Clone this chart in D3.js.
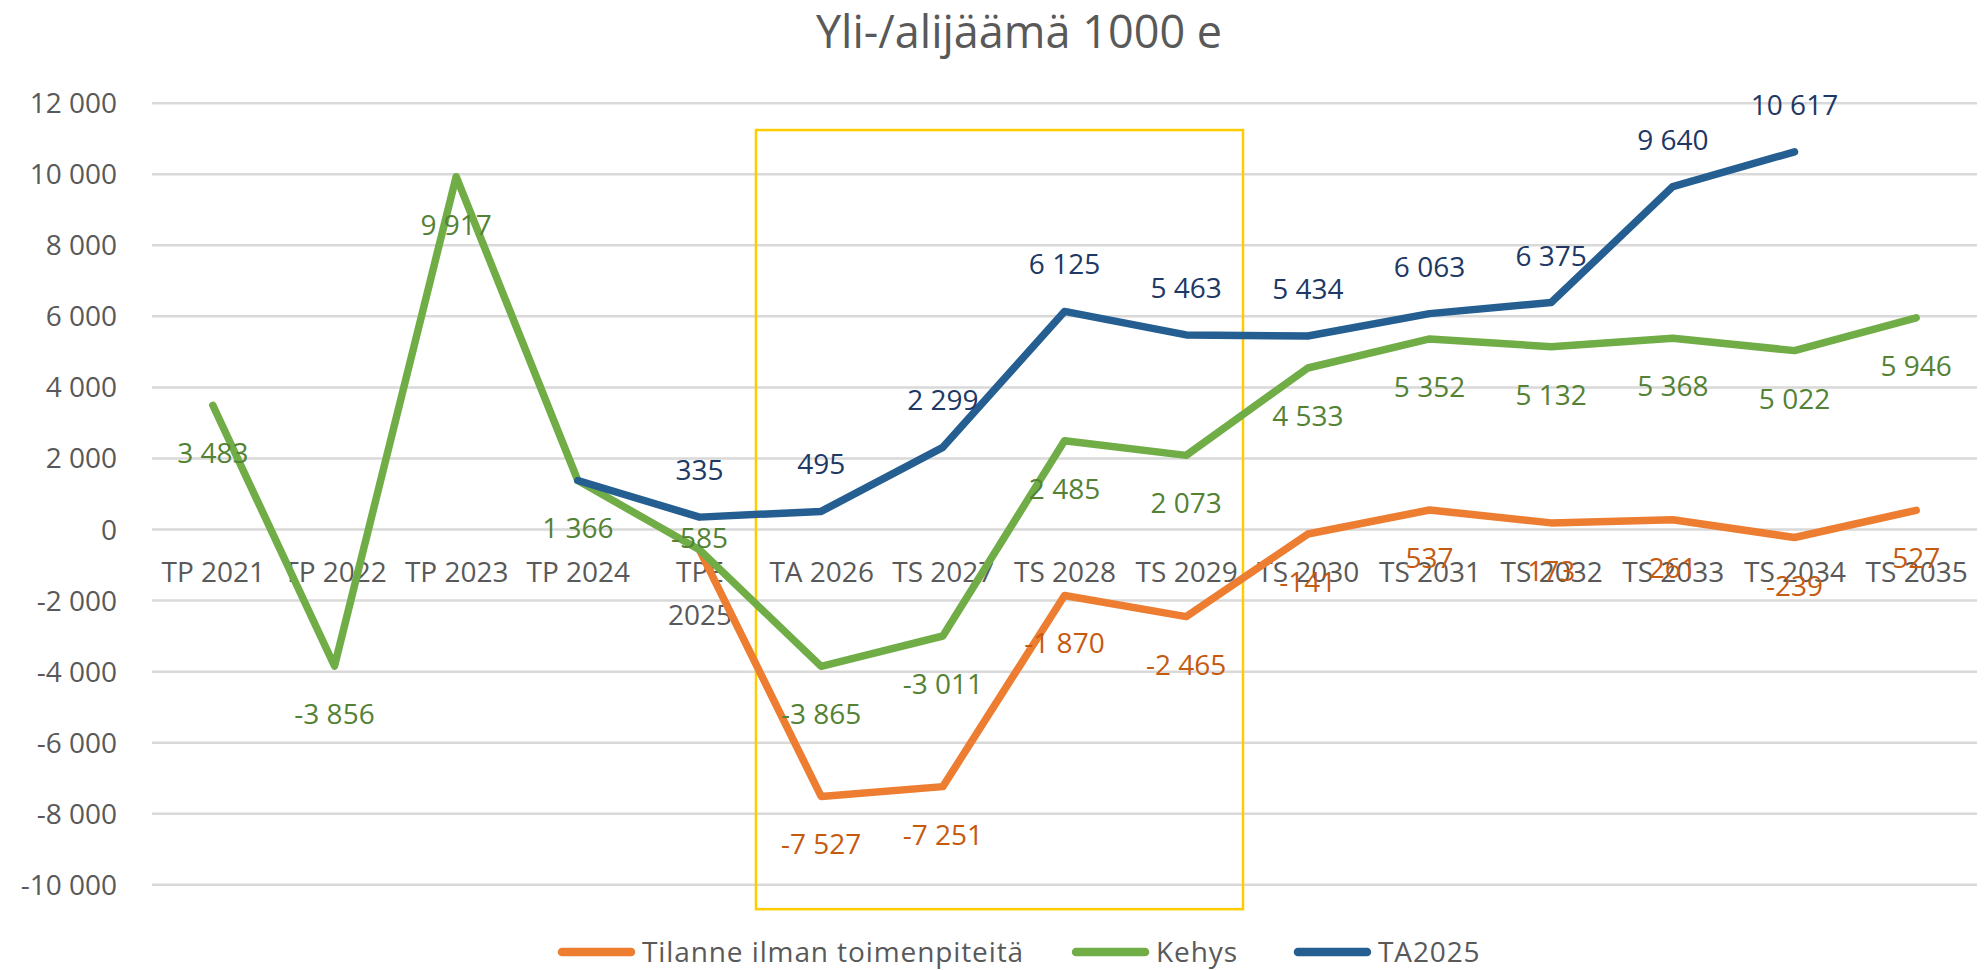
<!DOCTYPE html>
<html>
<head>
<meta charset="utf-8">
<script src="https://cdnjs.cloudflare.com/ajax/libs/d3/7.8.5/d3.min.js"></script>
<style>
body{margin:0;background:#fff;}
svg{display:block;font-family:"Open Sans",sans-serif;}
</style>
</head>
<body>
<div id="chart"></div>
<script>
//data
var categories = ["TP 2021","TP 2022","TP 2023","TP 2024","TPE 2025","TA 2026","TS 2027","TS 2028","TS 2029","TS 2030","TS 2031","TS 2032","TS 2033","TS 2034","TS 2035"];
var tilanne = [null,null,null,null,-585,-7527,-7251,-1870,-2465,-141,537,173,261,-239,527];
var kehys = [3483,-3856,9917,1366,-585,-3865,-3011,2485,2073,4533,5352,5132,5368,5022,5946];
var ta2025 = [null,null,null,1366,335,495,2299,6125,5463,5434,6063,6375,9640,10617,null];
var yTicks = [-10000,-8000,-6000,-4000,-2000,0,2000,4000,6000,8000,10000,12000];
var seriesNames = ["Tilanne ilman toimenpiteitä","Kehys","TA2025"];
var boxRange = ["TA 2026","TS 2029"]; // yellow frame around these years

var width = 1987, height = 970;
var plotL = 152, plotR = 1977, plotT = 102.7, plotB = 884.3;

var svg = d3.select('#chart')
    .append('svg')
    .attr('width', width)
    .attr('height', height);

var fmt = d3.formatLocale({decimal:",", thousands:" ", grouping:[3], currency:["","€"], minus:"-"}).format(",d");

var scaleX = d3.scalePoint().domain(categories).range([plotL, plotR]).padding(0.5);
var scaleY = d3.scaleLinear().domain([-10000, 12000]).range([plotB, plotT]);
var step = scaleX.step();

// title
svg.append('text')
    .attr('x', 1019).attr('y', 48)
    .attr('text-anchor', 'middle')
    .attr('font-size', 45)
    .attr('fill', '#595959')
    .text("Yli-/alijäämä 1000 e");

// y axis + gridlines
var axisY = d3.axisLeft(scaleY).tickValues(yTicks).tickSizeInner(-(plotR - plotL)).tickSizeOuter(0).tickPadding(35).tickFormat(fmt);
var gY = svg.append('g').attr('class', 'axis axis-y').attr('transform', 'translate(' + plotL + ',0)').call(axisY);
gY.select('.domain').remove();
gY.selectAll('line').attr('stroke', '#d9d9d9').attr('stroke-width', 2.5);
gY.selectAll('text').attr('font-size', 28).attr('fill', '#595959').attr('font-family', '"Open Sans",sans-serif').attr('dy', '0.357em');

// x axis labels
var axisX = d3.axisBottom(scaleX).tickSize(0).tickPadding(0);
var gX = svg.append('g').attr('class', 'axis axis-x').attr('transform', 'translate(0,' + scaleY(0) + ')').call(axisX);
gX.select('.domain').remove();
gX.selectAll('text')
    .attr('font-size', 28).attr('fill', '#595959').attr('font-family', '"Open Sans",sans-serif')
    .attr('y', 53).attr('dy', 0)
    .each(function(d){
        var t = d3.select(this);
        if (this.getComputedTextLength() > 112){
            var words = d.split(" ");
            t.text(null);
            words.forEach(function(w, i){
                t.append('tspan').attr('x', 0).attr('y', 53 + i * 43).text(w);
            });
        }
    });

// yellow frame
svg.append('rect')
    .attr('x', scaleX(boxRange[0]) - step * 0.536)
    .attr('y', scaleY(11230))
    .attr('width', (scaleX(boxRange[1]) + step * 0.467) - (scaleX(boxRange[0]) - step * 0.536))
    .attr('height', scaleY(-10700) - scaleY(11230))
    .attr('fill', 'none')
    .attr('stroke', '#FFCC00')
    .attr('stroke-width', 2.5);

var series = [
    {name: seriesNames[0], values: tilanne, color: '#ED7D31', labelColor: '#C55A11', labelFrom: 5, dy: 48},
    {name: seriesNames[1], values: kehys, color: '#70AD47', labelColor: '#548235', labelFrom: 0, dy: 48},
    {name: seriesNames[2], values: ta2025, color: '#255E91', labelColor: '#203864', labelFrom: 4, dy: -47}
];
// -585 label sits on top of its point
var specialDy = {"1-4": -12};

var line = d3.line()
    .defined(function(d){ return d != null; })
    .x(function(d, i){ return scaleX(categories[i]); })
    .y(function(d){ return scaleY(d); });

var plotLines = svg.append('g').attr('class', 'lines');
plotLines.selectAll('.series')
    .data(series)
    .enter()
    .append('path')
    .attr('class', 'series')
    .attr('d', function(d){ return line(d.values); })
    .attr('fill', 'none')
    .attr('stroke', function(d){ return d.color; })
    .attr('stroke-width', 7.5)
    .attr('stroke-linejoin', 'round')
    .attr('stroke-linecap', 'round');

// data labels
var labels = svg.append('g').attr('class', 'labels');
series.forEach(function(s, si){
    var pts = [];
    s.values.forEach(function(v, i){
        if (v != null && i >= s.labelFrom) pts.push({v: v, i: i});
    });
    labels.selectAll('.lab' + si)
        .data(pts)
        .enter()
        .append('text')
        .attr('class', 'lab' + si)
        .attr('x', function(d){ return scaleX(categories[d.i]); })
        .attr('y', function(d){
            var off = specialDy[si + '-' + d.i] != null ? specialDy[si + '-' + d.i] : s.dy;
            return scaleY(d.v) + off;
        })
        .attr('dy', '0.357em')
        .attr('text-anchor', 'middle')
        .attr('font-size', 28)
        .attr('fill', s.labelColor)
        .text(function(d){ return fmt(d.v); });
});

// legend
var legend = svg.append('g').attr('class', 'legend').attr('transform', 'translate(558,952)');
var gaps = [52, 60];
var lx = 0;
var items = legend.selectAll('.item').data(series).enter().append('g').attr('class', 'item');
items.append('line')
    .attr('x1', 4).attr('x2', 73).attr('y1', 0).attr('y2', 0)
    .attr('stroke', function(d){ return d.color; })
    .attr('stroke-width', 8.5)
    .attr('stroke-linecap', 'round');
items.append('text')
    .attr('x', 84).attr('y', 0).attr('dy', '0.357em')
    .attr('font-size', 28).attr('fill', '#595959')
    .attr('letter-spacing', 0.9)
    .text(function(d){ return d.name; });
items.each(function(d, i){
    var w = this.getBBox().width;
    d3.select(this).attr('transform', 'translate(' + lx + ',0)');
    lx += w + (gaps[i] || 0);
});
</script>
</body>
</html>
